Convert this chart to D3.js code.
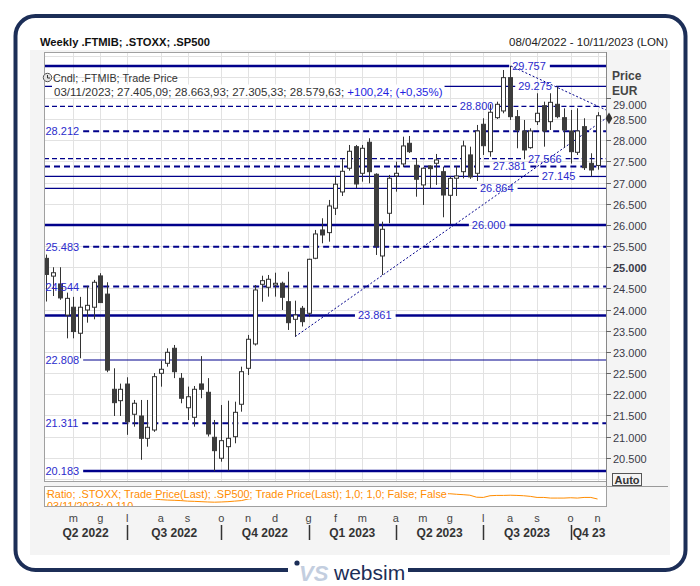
<!DOCTYPE html>
<html><head><meta charset="utf-8">
<script src="https://cdn.jsdelivr.net/npm/d3@7"></script>
<style>
html,body{margin:0;padding:0;background:#fff;}
svg{display:block;font-family:"Liberation Sans",Arial,sans-serif;}
</style></head><body>
<svg id="c" width="700" height="586"></svg>
<script>
// ---------------- DATA ----------------
const titleText = "Weekly .FTMIB; .STOXX; .SP500";
const rangeText = "08/04/2022 - 10/11/2023 (LON)";
const seriesName = "Cndl; .FTMIB; Trade Price";
const ratioName = "Ratio; .STOXX; Trade Price(Last); .SP500; Trade Price(Last);  1,0; 1,0; False; False";
const firstWeek = "2022-04-08";
const lastWeek = "2023-11-03";
const open = [25210,24790,24605,23870,24055,23440,23990,24055,24795,24365,
22116,21847,22240,21526,21485,20958,21154,22494,22730,23085,
22376,21680,21454,22242,22045,20982,20486,20760,20996,21762,
22612,23187,24597,24527,24581,24621,24186,23770,24030,23912,
25212,25881,25818,26394,26779,27339,27849,27220,27953,27197,
25266,26275,27157,27441,27929,27409,26945,27393,27457,27258,
26700,27103,27258,27654,27220,28378,27731,28534,28693,29480,
28558,28220,27826,28440,28818,28440,28850,28534,28220,27716,
28322,27456,27405.09];
const high = [25300,25000,25000,24400,24300,24300,24560,24700,24860,24645,
22612,22250,22400,21864,21864,21864,22500,22792,23084,23163,
22500,22180,22194,22900,22380,21391,21745,21847,21823,22650,
23400,24581,24800,24817,24871,24659,24894,24210,24085,25200,
25881,26157,26590,27157,27575,27889,27889,27889,28048,27220,
26077,27181,27496,28085,28102,27575,27360,27410,27677,27377,
27150,27393,27991,27849,28362,28520,28850,28912,29661,29757,
28716,28480,28283,29111,28912,29111,29275,28756,28716,28756,
28520,27693,28663.93];
const low = [24190,24320,24230,23320,23320,22850,23690,23770,24160,22520,
21485,21485,21040,21233,20450,20760,21110,22178,22650,22380,
21786,21390,21233,21904,21000,20183,20405,20195,20840,21587,
22454,23150,24186,24305,24305,23990,23518,23360,23600,23830,
25190,25566,25604,26235,26684,27282,26866,27022,26984,25290,
24817,26039,26786,27362,27700,26667,26472,26866,26945,26181,
26020,26684,27100,27086,27039,27653,27612,28503,28638,28480,
27811,27558,27800,28362,27849,28243,28520,27826,27450,27653,
27298,27145,27305.33];
const close = [24830,24870,24275,24265,23480,24055,24100,24645,24165,22570,
21800,22116,21350,21786,20958,21218,22414,22589,22990,22532,
21904,21940,22116,22116,21060,20666,20902,20958,21572,22532,
23298,24463,24683,24716,24621,24290,23690,23872,23714,25188,
25786,25763,26448,26961,27267,27740,26968,27811,27258,25503,
25897,27103,27220,27866,27731,27079,27339,27330,27535,26707,
27100,27157,27866,27134,28220,27872,28662,28850,29480,28558,
28243,27771,28220,28638,28220,28897,28558,28243,27731,28220,
27353,27298,28579.63];
const ratio = [0.1150,0.1145,0.1140,0.1138,0.1135,0.1130,0.1128,0.1125,0.1120,0.1118,
0.1115,0.1112,0.1110,0.1110,0.1108,0.1106,0.1100,0.1094,
0.1090,0.1088,0.1085,0.1080,0.1078,0.1075,0.1072,0.1070,0.1072,0.1075,0.1080,0.1085,
0.1100,0.1108,0.1112,0.1115,0.1118,0.1120,0.1122,0.1125,0.1126,0.1128,
0.1130,0.1130,0.1132,0.1134,0.1135,0.1138,0.1140,0.1142,0.1140,0.1138,
0.1142,0.1145,0.1146,0.1148,0.1150,0.1150,0.1148,0.1150,0.1152,0.1150,
0.1150,0.1145,0.1141,0.1136,0.1117,0.1115,0.1131,0.1134,0.1134,0.1136,
0.1134,0.1131,0.1125,0.1115,0.1115,0.1109,0.1109,0.1109,0.1112,0.1109,
0.1115,0.1115,0.1100];
const lastChange = 100.24;
const lastChangePct = 0.35;
const levels = [29757,29275,28800,28212,27566,27381,27145,26864,26000,25483,24544,23861,22808,21311,20183];
const priceTicks = [20500,21000,21500,22000,22500,23000,23500,24000,24500,25000,25500,26000,26500,27000,27500,28000,28500,29000];
const monthLetters = ["g","f","m","a","m","g","l","a","s","o","n","d"];
const trendUp = [{i:37, v:23360},{i:83.26, v:28520}];
const trendDown = [{i:69.1, v:29757},{i:83.26, v:28716}];

// ---------------- DRAW ----------------
const svg = d3.select("#c");
const NAVY = "#00008b", LBL = "#2b2bcc";
const loc = d3.formatLocale({decimal:",", thousands:".", grouping:[3], currency:["","€"]});
const fmt0 = loc.format(",.0f"), fmt2 = loc.format(",.2f"), fmt3 = loc.format(",.3f");
const parse = d3.timeParse("%Y-%m-%d"), fdate = d3.timeFormat("%d/%m/%Y");
const weeks = d3.timeFriday.range(parse(firstWeek), d3.timeDay.offset(parse(lastWeek),1));

const PL=44, PR=606, PT=52, PB=481;
const x = d3.scaleLinear().domain([-0.37, 83.26]).range([PL, PR]);
const y = d3.scaleLinear().domain([19949, 30086]).range([PB, PT]);
const y2 = d3.scaleLinear().domain([0.1034, 0.1223]).range([506, 486]);

// frame
svg.append("rect").attr("width",700).attr("height",586).attr("fill","#fff");
svg.append("rect").attr("x",30).attr("y",50).attr("width",640).attr("height",505).attr("fill","#f4f4f4");
svg.append("rect").attr("x",15.5).attr("y",16).attr("width",670).attr("height",554).attr("rx",20)
  .attr("fill","none").attr("stroke","#1c2e57").attr("stroke-width",4);

svg.append("text").attr("x",40).attr("y",45.5).attr("font-size","11.2px").attr("font-weight","bold").attr("fill","#111").text(titleText);
svg.append("text").attr("x",668).attr("y",45.5).attr("text-anchor","end").attr("font-size","11.5px").attr("fill","#222").text(rangeText);

// plot area
svg.append("rect").attr("x",PL+0.5).attr("y",PT+0.5).attr("width",PR-PL).attr("height",PB-PT).attr("fill","#fff").attr("stroke","#a0a0a0");
const defs = svg.append("defs");
defs.append("clipPath").attr("id","clipP").append("rect").attr("x",PL+1).attr("y",PT+1).attr("width",PR-PL-1).attr("height",PB-PT-1);
defs.append("clipPath").attr("id","clipR").append("rect").attr("x",PL+1).attr("y",486).attr("width",PR-PL-1).attr("height",20);
const gp = svg.append("g").attr("clip-path","url(#clipP)");

// grid
const monthIdx = [];
weeks.forEach((d,i)=>{ if(i>0 && d.getMonth()!==weeks[i-1].getMonth()) monthIdx.push(i); });
d3.range(20000, 30001, 500).forEach(v=>{
  gp.append("line").attr("x1",PL).attr("x2",PR).attr("y1",Math.round(y(v))+0.5).attr("y2",Math.round(y(v))+0.5).attr("stroke","#e2e2e2");
});
monthIdx.forEach(i=>{
  const xx = Math.round(x(i))+0.5;
  gp.append("line").attr("x1",xx).attr("x2",xx).attr("y1",PT).attr("y2",PB).attr("stroke","#e2e2e2");
});

// level lines
const levelStyle = {
  29757:{w:2.5,d:null,at:69.3}, 29275:{w:1.2,d:null,at:70.2}, 28800:{w:1.2,d:"5,3",at:61.5},
  28212:{w:2,d:"6,4",at:-0.22}, 27566:{w:1.2,d:"5,3",at:71.65}, 27381:{w:2,d:"6,4",at:66.4},
  27145:{w:1.2,d:null,at:73.7}, 26864:{w:1.2,d:null,at:64.5}, 26000:{w:2.5,d:null,at:63.3},
  25483:{w:2,d:"6,4",at:-0.22}, 24544:{w:2,d:"6,4",at:-0.22}, 23861:{w:2.5,d:null,at:46.35},
  22808:{w:1.2,d:null,at:-0.22}, 21311:{w:2,d:"6,4",at:-0.22}, 20183:{w:2.5,d:null,at:-0.22}
};
const gLines = gp.append("g");
const gLab = svg.append("g");
levels.forEach(v=>{
  const st = levelStyle[v];
  const yy = y(v);
  const lx = Math.max(x(st.at), PL+1.5);
  const t = gLab.append("text").attr("x",lx).attr("y",yy+4).attr("font-size","11px").attr("fill",LBL).text(fmt0(v));
  const w = t.node().getComputedTextLength();
  [[PL, lx-3],[lx+w+4, PR]].forEach(s=>{
    if(s[1]-s[0] > 1){
      const l = gLines.append("line").attr("x1",s[0]).attr("x2",s[1]).attr("y1",yy).attr("y2",yy)
        .attr("stroke",NAVY).attr("stroke-width",st.w);
      if(st.d) l.attr("stroke-dasharray",st.d);
    }
  });
});

// trend lines
[trendUp, trendDown].forEach(tl=>{
  gp.append("line").attr("x1",x(tl[0].i)).attr("y1",y(tl[0].v)).attr("x2",x(tl[1].i)).attr("y2",y(tl[1].v))
    .attr("stroke",NAVY).attr("stroke-width",1).attr("stroke-dasharray","2,2");
});

// candles
const gc = gp.append("g");
open.forEach((o,i)=>{
  const c = close[i], xc = Math.round(x(i));
  const up = c >= o;
  gc.append("line").attr("x1",xc+0.5).attr("x2",xc+0.5).attr("y1",y(high[i])).attr("y2",y(low[i])).attr("stroke","#333");
  const top = y(Math.max(o,c)), bot = y(Math.min(o,c));
  gc.append("rect").attr("x",xc-1.5).attr("y",top).attr("width",4).attr("height",Math.max(1,bot-top))
    .attr("fill",up?"#fff":"#3c3c3c").attr("stroke",up?"#333":"#3c3c3c").attr("stroke-width",1);
});
gLab.raise();

// legend
const n = open.length-1;
svg.append("circle").attr("cx",47.5).attr("cy",77.5).attr("r",4.2).attr("fill","#e4e4e4").attr("stroke","#555");
svg.append("path").attr("d","M47.5,75 V78 H50").attr("fill","none").attr("stroke","#333").attr("stroke-width",1);
svg.append("text").attr("x",53).attr("y",82).attr("font-size","10.8px").attr("fill","#333").text(seriesName);
const leg2 = svg.append("text").attr("x",54).attr("y",95.5).attr("font-size","11.5px");
leg2.append("tspan").attr("fill","#333").text(`${fdate(weeks[n])}; ${fmt2(open[n])}; ${fmt2(high[n])}; ${fmt2(low[n])}; ${fmt2(close[n])}; `);
leg2.append("tspan").attr("fill","#1f1fe0").text(`+${fmt2(lastChange)}; (+${fmt2(lastChangePct)}%)`);
const lw = leg2.node().getComputedTextLength();
svg.insert("rect", () => leg2.node()).attr("x",52).attr("y",84.5).attr("width",lw+4).attr("height",13).attr("fill","#fff");

// right axis
svg.append("line").attr("x1",PR+0.5).attr("x2",PR+0.5).attr("y1",PT).attr("y2",507).attr("stroke","#888");
priceTicks.forEach(v=>{
  const yy = Math.round(y(v))+0.5;
  svg.append("line").attr("x1",PR).attr("x2",PR+5).attr("y1",yy).attr("y2",yy).attr("stroke","#666");
  svg.append("text").attr("x",PR+7).attr("y",yy+4+(v===29000?6:0)).attr("font-size","11px")
    .attr("font-weight", v%5000===0?"bold":"normal").attr("fill","#3a3a48").text(fmt0(v));
});
svg.append("text").attr("x",612).attr("y",79.5).attr("font-size","12px").attr("font-weight","bold").attr("fill","#444").text("Price");
svg.append("text").attr("x",612).attr("y",94.5).attr("font-size","12px").attr("font-weight","bold").attr("fill","#444").text("EUR");
svg.append("path").attr("d",d3.symbol(d3.symbolDiamond,40)()).attr("transform",`translate(${PR+3},${y(trendUp[1].v)})`).attr("fill","#333");
svg.append("rect").attr("x",612.5).attr("y",473.5).attr("width",29).attr("height",12).attr("fill","#f4f4f4").attr("stroke","#555");
svg.append("text").attr("x",614.5).attr("y",483.5).attr("font-size","11px").attr("font-weight","bold").attr("fill","#333").text("Auto");

// ratio panel
svg.append("line").attr("x1",PL).attr("x2",668).attr("y1",486.5).attr("y2",486.5).attr("stroke","#999");
svg.append("rect").attr("x",PL+0.5).attr("y",486.5).attr("width",PR-PL).attr("height",20).attr("fill","#fff").attr("stroke","#a0a0a0");
const gr = svg.append("g").attr("clip-path","url(#clipR)");
gr.append("path").datum(ratio).attr("d",d3.line().x((d,i)=>x(i)).y(d=>y2(d)))
  .attr("fill","none").attr("stroke","#ff8c00").attr("stroke-width",1);
const rt = gr.append("text").attr("x",47).attr("y",497.5).attr("font-size","10.9px").attr("fill","#ff8c00").text(ratioName);
const rw = rt.node().getComputedTextLength();
gr.insert("rect", () => rt.node()).attr("x",48).attr("y",487).attr("width",rw).attr("height",12).attr("fill","#fff");
const rt2 = gr.append("text").attr("x",47).attr("y",509.5).attr("font-size","10.9px").attr("fill","#ff8c00").text(`${fdate(weeks[n])}; ${fmt3(ratio[n])}`);
gr.insert("rect", () => rt2.node()).attr("x",48).attr("y",500).attr("width",rt2.node().getComputedTextLength()).attr("height",7).attr("fill","#fff");

// x axis: months + quarters
monthIdx.forEach(i=>{
  svg.append("text").attr("x",x(i)).attr("y",522).attr("text-anchor","middle").attr("font-size","11px").attr("fill","#444")
    .text(monthLetters[weeks[i].getMonth()]);
});
const qIdx = monthIdx.filter(i=>weeks[i].getMonth()%3===0);
qIdx.forEach(i=>{
  const xx = Math.round(x(i))+0.5;
  svg.append("line").attr("x1",xx).attr("x2",xx).attr("y1",525).attr("y2",540).attr("stroke","#333").attr("stroke-width",1.5);
});
const bounds = [0, ...qIdx];
bounds.forEach((b,k)=>{
  const x0 = k===0 ? PL : x(b), x1 = k<bounds.length-1 ? x(bounds[k+1]) : PR;
  const d = weeks[b], q = Math.floor(d.getMonth()/3)+1, yr = d.getFullYear();
  const short = (x1-x0) < 50;
  svg.append("text").attr("x", short ? x0+2 : (x0+x1)/2).attr("y",536.5)
    .attr("text-anchor", short?"start":"middle").attr("font-size","12px").attr("font-weight","bold").attr("fill","#333")
    .text(short ? `Q${q} ${String(yr).slice(2)}` : `Q${q} ${yr}`);
});

// logo
svg.append("rect").attr("x",288).attr("y",560).attr("width",120).attr("height",26).attr("fill","#fff");
svg.append("circle").attr("cx",297).attr("cy",563).attr("r",2.6).attr("fill","#1c2e57");
svg.append("text").attr("x",299).attr("y",581).attr("font-size","22px").attr("font-weight","bold").attr("font-style","italic")
  .attr("fill","#c3cedf").text("VS");
svg.append("text").attr("x",334).attr("y",580).attr("font-size","21px").attr("fill","#1c2e57").text("websim");
</script>
</body></html>
